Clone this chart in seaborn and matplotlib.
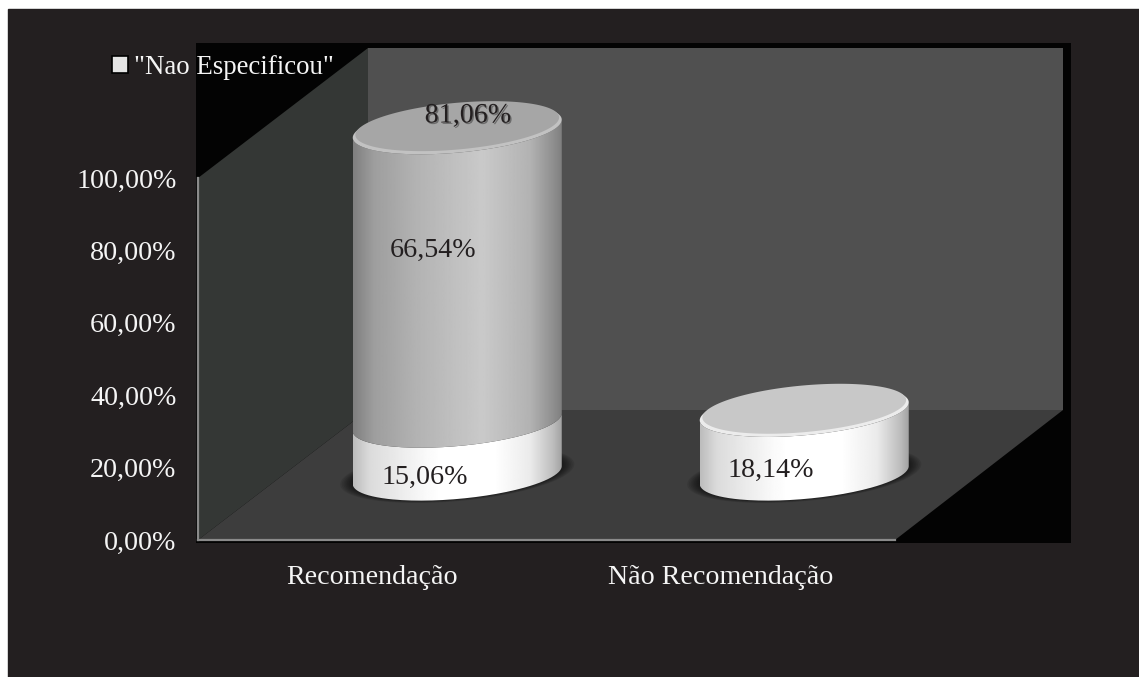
import numpy as np
import pandas as pd
import matplotlib
matplotlib.use("Agg")
import matplotlib.pyplot as plt
import matplotlib.patheffects as pe
from matplotlib.patches import Polygon, PathPatch, Patch
from matplotlib.path import Path
import seaborn as sns

categories = ["Recomendação", "Não Recomendação"]
lower_values = [15.06, 18.14]
upper_values = [81.06, 0.0]
lower_labels = ["15,06%", "18,14%"]
middle_label = "66,54%"
top_label = "81,06%"
legend_label = '"Nao Especificou"'
y_ticks = [0, 20, 40, 60, 80, 100]
y_tick_labels = ["0,00%", "20,00%", "40,00%", "60,00%", "80,00%", "100,00%"]

BG = "#231f20"
W, H = 1139, 677
sns.set_theme(style="white")
plt.rcParams["font.family"] = ["Liberation Serif", "DejaVu Serif"]

fig = plt.figure(figsize=(W / 100, H / 100), dpi=100, facecolor="white")
fig.add_artist(plt.Rectangle((8 / W, 0), 1, 1 - 9 / H, transform=fig.transFigure, color=BG, zorder=-10))

L, R, T, B = 198, 895, 178, 540
ax = fig.add_axes([L / W, 1 - B / H, (R - L) / W, (B - T) / H])
ax.patch.set_alpha(0)

df = pd.DataFrame({"cat": categories, "lower": lower_values,
                   "total": np.add(lower_values, upper_values)})
sns.barplot(df, x="cat", y="total", ax=ax, width=0.603, color="#bbbbbb", order=categories)
sns.barplot(df, x="cat", y="lower", ax=ax, width=0.603, color="#ffffff", order=categories)
ax.set_xlim(-0.5, 1.5)
ax.set_ylim(0, 100)
px_x = (R - L) / 2
px_y = (B - T) / 100

# depth of the 3D box, in data units
DX, DY = 170 / px_x, 130 / px_y
x0, x1, y0, y1 = -0.5, 1.5, 0, 100

def add_poly(pts, color, z):
    ax.add_patch(Polygon(pts, closed=True, facecolor=color, edgecolor="none", zorder=z, clip_on=False))

# black backing plane
bx0 = x0 - 2 / px_x
add_poly([(bx0, -3 / px_y), (x1 + 168 / px_x + 8 / px_x, -3 / px_y),
          (x1 + 168 / px_x + 8 / px_x, y1 + 135 / px_y), (bx0, y1 + 135 / px_y)], "#030303", 0.1)
BX = 168 / px_x
add_poly([(x0 + DX, DY), (x1 + BX, DY), (x1 + BX, y1 + DY), (x0 + DX, y1 + DY)], "#505050", 0.2)
add_poly([(x0, 0), (x0 + DX, DY), (x0 + DX, y1 + DY), (x0, y1)], "#343735", 0.3)
add_poly([(x0, 0), (x1, 0), (x1 + BX, DY), (x0 + DX, DY)], "#3d3d3d", 0.4)

A = 0.5 * 209 / px_x
EB = 24 / px_y
EK = 9 / px_y
t = np.linspace(0, 2 * np.pi, 181)

def ellipse(cx, cy, sa=1.0):
    return np.column_stack([cx + sa * A * np.cos(t), cy + sa * EB * np.sin(t) + sa * EK * np.cos(t)])

def body_path(cx, ya, yb):
    arc = t[t <= np.pi + 1e-9]
    bottom = np.column_stack([cx + A * np.cos(arc), ya - EB * np.sin(arc) + EK * np.cos(arc)])
    arc2 = arc[::-1]
    top = np.column_stack([cx + A * np.cos(arc2), yb - EB * np.sin(arc2) + EK * np.cos(arc2)])
    return Path(np.vstack([bottom, top, bottom[:1]]))

def body(cx, ya, yb, stops, z):
    u = np.linspace(0, 1, 256)
    g = np.interp(u, [s[0] for s in stops], [s[1] for s in stops]).reshape(1, -1)
    im = ax.imshow(g, cmap="gray", vmin=0, vmax=1, aspect="auto", zorder=z,
                   extent=(cx - A, cx + A, ya - 20, yb + 20))
    im.set_clip_box(fig.bbox)
    im.set_clip_path(PathPatch(body_path(cx, ya, yb), transform=ax.transData))

GREY_STOPS = [(0, .50), (.10, .62), (.30, .70), (.62, .79), (.85, .70), (.96, .56), (1, .50)]
WHITE_STOPS = [(0, .74), (.08, .86), (.35, .98), (.42, 1), (.68, 1), (.85, .92), (.96, .74), (1, .64)]

lower_bars = ax.containers[1].patches
total_bars = ax.containers[0].patches
for i, (lo, tot) in enumerate(zip(lower_bars, total_bars)):
    cx = lo.get_x() + lo.get_width() / 2 + BX / 2 + (1.0 / px_x if i == 0 else -0.5 / px_x)
    base = 65 / px_y
    h_lo = lo.get_height() * 0.97
    h_tot = h_lo + (tot.get_height() - lo.get_height())
    lo.set_visible(False)
    tot.set_visible(False)
    # soft shadow on the floor
    for k in range(8):
        s = 1.12 - k * 0.016
        ax.add_patch(Polygon(ellipse(cx, base + 0.2, s), closed=True, facecolor="black",
                             alpha=0.09, edgecolor="none", zorder=1, clip_on=False))
    body(cx, base, base + h_lo, WHITE_STOPS, 2)
    if tot.get_height() > lo.get_height():
        body(cx, base + h_lo, base + h_tot, GREY_STOPS, 3)
        rim, face = "#c2c2c2", "#a6a6a6"
        top_y = base + h_tot
    else:
        rim, face = "#ececec", "#c8c8c8"
        top_y = base + h_lo
    ax.add_patch(Polygon(ellipse(cx, top_y), closed=True, facecolor=rim,
                         edgecolor="none", zorder=4, clip_on=False))
    ax.add_patch(Polygon(ellipse(cx, top_y + 0.7, 0.975), closed=True, facecolor=face,
                         edgecolor="none", zorder=4.1, clip_on=False))

ax.set_xlim(-0.5, 1.5)
ax.set_ylim(0, 100)

FS = 20.2
def px_text(px, py, s, **kw):
    return ax.text((px - L) / px_x - 0.5, (B - py) / px_y, s, ha="center", va="center",
                   fontsize=FS, color="#231f20", zorder=6, clip_on=False, **kw)

px_text(425, 477, lower_labels[0])
px_text(771, 470, lower_labels[1])
px_text(433, 250, middle_label)
px_text(468, 116, top_label,
        path_effects=[pe.withSimplePatchShadow(offset=(1, -1), alpha=0.35, shadow_rgbFace="black")])

ax.set_xlabel("")
ax.set_ylabel("")
ax.set_yticks(y_ticks, y_tick_labels)
ax.tick_params(axis="both", length=0, colors="#f5f5f5", labelsize=FS)
ax.tick_params(axis="y", pad=15.5)
ax.tick_params(axis="x", pad=18)
for side in ("top", "right"):
    ax.spines[side].set_visible(False)
for side in ("left", "bottom"):
    ax.spines[side].set_color("#8a8a8a")
    ax.spines[side].set_linewidth(1.6)
    ax.spines[side].set_zorder(5)

leg = ax.legend(handles=[Patch(facecolor="#e4e4e4", edgecolor="black", linewidth=1.2, label=legend_label)],
                loc="upper left", bbox_to_anchor=(112 / W, 1 - 55 / H), bbox_transform=fig.transFigure,
                frameon=False, fontsize=19.4, handlelength=0.6, handleheight=0.6, handletextpad=0.2,
                borderpad=0, borderaxespad=0, labelcolor="#f5f5f5")
leg.set_zorder(7)

fig.savefig("out.png", dpi=100, facecolor="white")
